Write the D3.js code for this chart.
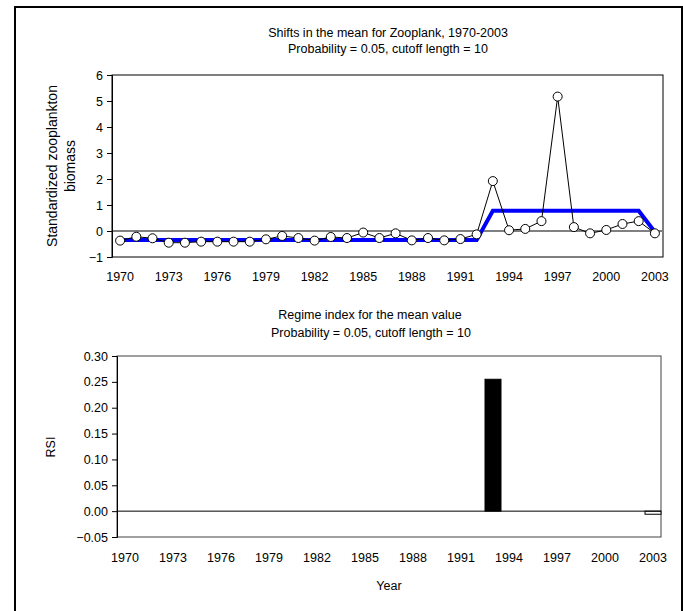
<!DOCTYPE html>
<html>
<head>
<meta charset="utf-8">
<script src="https://cdn.jsdelivr.net/npm/d3@7"></script>
<style>
  body { margin: 0; background: #fff; }
  text { font-family: "Liberation Sans", Arial, sans-serif; font-size: 12.5px; fill: #000; }
</style>
</head>
<body>
<div id="chart"></div>
<script>
var years = d3.range(1970, 2004);
var zoo = [-0.37, -0.22, -0.28, -0.45, -0.45, -0.41, -0.41, -0.41, -0.41, -0.32,
           -0.19, -0.27, -0.37, -0.23, -0.27, -0.06, -0.27, -0.09, -0.36, -0.27,
           -0.36, -0.31, -0.13, 1.92, 0.03, 0.08, 0.38, 5.17, 0.15, -0.09,
           0.04, 0.27, 0.38, -0.09];
var regimeMean = [-0.35, -0.35, -0.35, -0.35, -0.35, -0.35, -0.35, -0.35, -0.35, -0.35,
                  -0.35, -0.35, -0.35, -0.35, -0.35, -0.35, -0.35, -0.35, -0.35, -0.35,
                  -0.35, -0.35, -0.35, 0.78, 0.78, 0.78, 0.78, 0.78, 0.78, 0.78,
                  0.78, 0.78, 0.78, -0.04];
var rsi = [0, 0, 0, 0, 0, 0, 0, 0, 0, 0, 0, 0, 0, 0, 0, 0, 0, 0, 0, 0,
           0, 0, 0, 0.255, 0, 0, 0, 0, 0, 0, 0, 0, 0, -0.006];
var yearTicks = [1970, 1973, 1976, 1979, 1982, 1985, 1988, 1991, 1994, 1997, 2000, 2003];
var topTicks = [-1, 0, 1, 2, 3, 4, 5, 6];
var rsiTicks = [-0.05, 0, 0.05, 0.10, 0.15, 0.20, 0.25, 0.30];

var width = 683, height = 611;

var svg = d3.select('#chart').append('svg')
    .attr('width', width)
    .attr('height', height);

// outer frame
svg.append('rect')
    .attr('x', 15).attr('y', 7)
    .attr('width', 667).attr('height', 612)
    .attr('fill', 'none')
    .attr('stroke', '#000')
    .attr('stroke-width', 2);

// ---------- top chart ----------
var x1 = d3.scaleBand().domain(years).range([112, 663]).padding(0);
var y1 = d3.scaleLinear().domain([-1, 6]).range([257, 75]);
var cx1 = d => x1(d) + x1.bandwidth() / 2;

var topG = svg.append('g');

topG.append('rect')
    .attr('x', 112).attr('y', 75)
    .attr('width', 551).attr('height', 182)
    .attr('fill', 'none')
    .attr('stroke', '#000')
    .attr('stroke-width', 1);

topG.append('line')
    .attr('x1', 112).attr('x2', 663)
    .attr('y1', y1(0)).attr('y2', y1(0))
    .attr('stroke', '#808080')
    .attr('stroke-width', 2);

topG.append('g')
    .attr('transform', 'translate(112,0)')
    .call(d3.axisLeft(y1).tickValues(topTicks).tickSize(5).tickPadding(4).tickFormat(d3.format('d')))
    .call(g => g.select('.domain').attr('stroke', '#000'))
    .call(g => g.selectAll('text').style('font-size', '12.5px'));

topG.append('g')
    .attr('transform', 'translate(0,257)')
    .call(d3.axisBottom(x1).tickValues(yearTicks).tickSize(0).tickPadding(15))
    .call(g => g.select('.domain').remove())
    .call(g => g.selectAll('text').style('font-size', '12.5px'));

topG.append('path')
    .datum(regimeMean)
    .attr('fill', 'none')
    .attr('stroke', '#0000ff')
    .attr('stroke-width', 4)
    .attr('d', d3.line().x((d, i) => cx1(years[i])).y(d => y1(d)));

topG.append('path')
    .datum(zoo)
    .attr('fill', 'none')
    .attr('stroke', '#000')
    .attr('stroke-width', 1)
    .attr('d', d3.line().x((d, i) => cx1(years[i])).y(d => y1(d)));

topG.selectAll('circle')
    .data(zoo)
    .enter()
    .append('circle')
    .attr('cx', (d, i) => cx1(years[i]))
    .attr('cy', d => y1(d))
    .attr('r', 4.5)
    .attr('fill', '#fff')
    .attr('stroke', '#000')
    .attr('stroke-width', 1);

topG.append('text')
    .attr('x', 388).attr('y', 37)
    .attr('text-anchor', 'middle')
    .text('Shifts in the mean for Zooplank, 1970-2003');
topG.append('text')
    .attr('x', 388).attr('y', 53)
    .attr('text-anchor', 'middle')
    .text('Probability = 0.05, cutoff length = 10');

var ylab = topG.append('text')
    .attr('transform', 'translate(57,166) rotate(-90)')
    .attr('text-anchor', 'middle')
    .style('font-size', '14px');
ylab.append('tspan').attr('x', 0).attr('dy', 0).text('Standardized zooplankton');
ylab.append('tspan').attr('x', 0).attr('dy', 18).text('biomass');

// ---------- bottom chart ----------
var x2 = d3.scaleBand().domain(years).range([117, 661]).padding(0);
var y2 = d3.scaleLinear().domain([-0.05, 0.30]).range([537, 356]);

var botG = svg.append('g');

botG.append('rect')
    .attr('x', 117).attr('y', 356)
    .attr('width', 544).attr('height', 181)
    .attr('fill', 'none')
    .attr('stroke', '#404040')
    .attr('stroke-width', 1);

botG.selectAll('rect.bar')
    .data(rsi)
    .enter()
    .append('rect')
    .attr('class', 'bar')
    .attr('x', (d, i) => x2(years[i]))
    .attr('y', d => y2(Math.max(d, 0)))
    .attr('width', x2.bandwidth())
    .attr('height', d => Math.abs(y2(d) - y2(0)))
    .attr('fill', d => d >= 0 ? '#000' : '#fff')
    .attr('stroke', '#000')
    .attr('stroke-width', d => d === 0 ? 0 : 1);

botG.append('line')
    .attr('x1', 117).attr('x2', 661)
    .attr('y1', y2(0)).attr('y2', y2(0))
    .attr('stroke', '#000')
    .attr('stroke-width', 1);

botG.append('g')
    .attr('transform', 'translate(117,0)')
    .call(d3.axisLeft(y2).tickValues(rsiTicks).tickSize(5).tickPadding(4).tickFormat(d3.format('.2f')))
    .call(g => g.select('.domain').attr('stroke', '#000'))
    .call(g => g.selectAll('text').style('font-size', '12.5px'));

botG.append('g')
    .attr('transform', 'translate(0,537)')
    .call(d3.axisBottom(x2).tickValues(yearTicks).tickSize(0).tickPadding(16))
    .call(g => g.select('.domain').remove())
    .call(g => g.selectAll('text').style('font-size', '12.5px'));

botG.append('text')
    .attr('x', 370).attr('y', 319)
    .attr('text-anchor', 'middle')
    .text('Regime index for the mean value');
botG.append('text')
    .attr('x', 371).attr('y', 337)
    .attr('text-anchor', 'middle')
    .text('Probability = 0.05, cutoff length = 10');

botG.append('text')
    .attr('transform', 'translate(55,447) rotate(-90)')
    .attr('text-anchor', 'middle')
    .text('RSI');

botG.append('text')
    .attr('x', 389).attr('y', 590)
    .attr('text-anchor', 'middle')
    .text('Year');
</script>
</body>
</html>
